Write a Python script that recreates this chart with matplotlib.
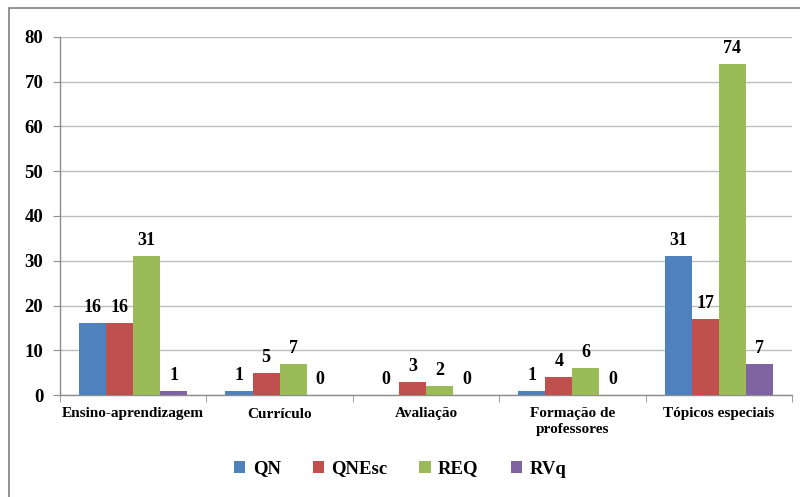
import matplotlib
matplotlib.use("Agg")
import matplotlib.pyplot as plt
import numpy as np
from matplotlib.patches import Rectangle

categories = ["Ensino-aprendizagem", "Currículo", "Avaliação", "Formação de\nprofessores", "Tópicos especiais"]
series_names = ["QN", "QNEsc", "REQ", "RVq"]
qn = [16, 1, 0, 1, 31]
qnesc = [16, 5, 3, 4, 17]
req = [31, 7, 2, 6, 74]
rvq = [1, 0, 0, 0, 7]
colors = ["#4F81BD", "#C0504D", "#9BBB59", "#8064A2"]
yticks = [0, 10, 20, 30, 40, 50, 60, 70, 80]

plt.rcParams['font.family'] = ['Liberation Serif', 'DejaVu Serif']
plt.rcParams['font.weight'] = 'bold'

fig = plt.figure(figsize=(8.0, 4.97), dpi=100)
W, H = 800, 497
ax = fig.add_axes([60 / W, 1 - 395 / H, (792 - 60) / W, (395 - 37) / H])

x = np.arange(len(categories))
bw = 0.185
data = [qn, qnesc, req, rvq]
for i, (name, vals, c) in enumerate(zip(series_names, data, colors)):
    pos = x + (i - 1.5) * bw
    ax.bar(pos, vals, width=bw, color=c, label=name, zorder=3)
    for p, v in zip(pos, vals):
        ax.annotate(str(v), (p, v), xytext=(0, 5), textcoords='offset points',
                    ha='center', va='bottom', fontsize=13, fontweight='bold', zorder=4)

ax.set_xlim(-0.5, len(categories) - 0.5)
ax.set_ylim(0, 80)
ax.set_yticks(yticks)
ax.set_yticklabels([str(t) for t in yticks], fontsize=13.5, fontweight='bold')
ax.yaxis.grid(True, color='#BDBDBD', linewidth=1.0, zorder=0)
ax.set_axisbelow(True)

ax.set_xticks(x)
ax.set_xticklabels(categories, fontsize=11, fontweight='bold', linespacing=1.3)
ax.tick_params(axis='x', length=0, pad=9)
ax.set_xticks(np.arange(len(categories) + 1) - 0.5, minor=True)
ax.tick_params(axis='x', which='minor', length=5, color='#8C8C8C', direction='out')
ax.tick_params(axis='y', length=5, color='#8C8C8C', direction='out', pad=7)

for s in ['top', 'right']:
    ax.spines[s].set_visible(False)
for s in ['left', 'bottom']:
    ax.spines[s].set_color('#8C8C8C')
    ax.spines[s].set_linewidth(1.0)

leg = fig.legend(loc='center', bbox_to_anchor=(0.5, 1 - 469 / H), ncol=4,
                 frameon=False, fontsize=13.5, handlelength=0.6, handleheight=0.6,
                 handletextpad=0.4, columnspacing=1.7)
for t in leg.get_texts():
    t.set_fontweight('bold')

fig.patches.append(Rectangle((9 / W, -0.05), 1.0, 1 - 8 / H + 0.05, transform=fig.transFigure,
                             fill=False, edgecolor='#7F7F7F', linewidth=1.2))

fig.savefig("out.png", dpi=100)
